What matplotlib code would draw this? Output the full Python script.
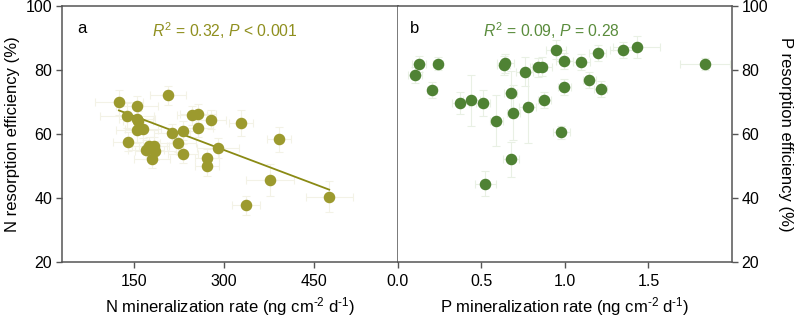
import numpy as np
import matplotlib
matplotlib.use("Agg")
import matplotlib.pyplot as plt

plt.rcParams['font.family'] = ['Liberation Sans', 'DejaVu Sans']
plt.rcParams['mathtext.fontset'] = 'custom'
plt.rcParams['mathtext.rm'] = 'Liberation Sans'
plt.rcParams['mathtext.it'] = 'Liberation Sans:italic'

# Panel a : N mineralization vs N resorption efficiency
n_min = [125, 207, 154.5, 138, 155.5, 157, 154.5, 164.5, 139.5, 169.5,
         176, 183.5, 186, 179.5, 213.5, 232, 224, 231.5, 247, 256.5,
         278, 257.5, 328, 290.5, 272.5, 272.5, 392.5, 377, 476, 337]
n_res = [70.0, 72.2, 68.9, 65.8, 64.8, 64.2, 61.4, 61.7, 57.7, 55.2,
         56.2, 56.2, 54.8, 52.3, 60.3, 61.1, 57.4, 53.9, 65.9, 66.4,
         64.5, 62.0, 63.5, 55.7, 52.5, 50.0, 58.4, 45.6, 40.5, 37.7]
n_min_err = [40, 30, 35, 45, 30, 25, 35, 30, 25, 30,
             30, 25, 35, 30, 30, 25, 30, 25, 25, 30,
             25, 25, 20, 35, 20, 20, 20, 40, 39, 24]
n_res_err = [4, 3, 3, 4, 3, 3, 4, 3, 3, 3,
             3, 3, 3, 3, 3, 3, 3, 3, 3, 3,
             3, 3, 4, 3, 3, 3, 4, 5, 5, 3]
# fitted line as reported in the figure
fit_slope = -0.0707
fit_intercept = 76.3

# Panel b : P mineralization vs P resorption efficiency
p_min = [0.128, 0.241, 0.104, 0.205, 0.376, 0.442, 0.510, 0.591, 0.635, 0.645,
         0.677, 0.693, 0.760, 0.778, 0.842, 0.864, 0.878, 0.945, 0.997, 0.997,
         0.979, 0.678, 0.526, 1.098, 1.197, 1.147, 1.215, 1.351, 1.431, 1.838]
p_res = [82.1, 82.1, 78.4, 73.9, 69.8, 70.6, 69.8, 64.2, 81.6, 82.2,
         72.9, 66.8, 79.6, 68.4, 81.0, 81.2, 70.6, 86.5, 82.8, 74.7,
         60.6, 52.2, 44.5, 82.7, 85.5, 77.0, 74.3, 86.4, 87.4, 82.0]
p_min_err = [0.04, 0.03, 0.04, 0.03, 0.05, 0.05, 0.04, 0.04, 0.04, 0.05,
             0.04, 0.04, 0.05, 0.05, 0.05, 0.06, 0.04, 0.06, 0.05, 0.04,
             0.05, 0.05, 0.06, 0.05, 0.05, 0.04, 0.04, 0.08, 0.14, 0.15]
p_res_err = [2.5, 2.0, 2.5, 2.5, 3.5, 8.0, 4.0, 8.0, 3.0, 3.0,
             7.0, 8.5, 4.5, 11.0, 3.0, 3.0, 2.5, 3.0, 2.5, 2.5,
             2.0, 5.5, 3.9, 2.5, 2.5, 2.5, 2.5, 2.5, 3.5, 2.0]

olive = '#9c9a2e'
olive_line = '#8a8a14'
green = '#4f8234'
spine_col = '#555555'

fig = plt.figure(figsize=(7.96, 3.19), dpi=100)
ax1 = fig.add_axes([0.0779, 0.1787, 0.4215, 0.801])
ax2 = fig.add_axes([0.4994, 0.1787, 0.4202, 0.801])

# panel a
ax1.errorbar(n_min, n_res, xerr=n_min_err, yerr=n_res_err, fmt='none',
             ecolor='#f3f2e6', elinewidth=0.8, capsize=3, capthick=0.8, zorder=1)
ax1.plot(n_min, n_res, 'o', color=olive, markersize=7.3, zorder=3)
xs = np.array([min(n_min), max(n_min)])
ax1.plot(xs, fit_intercept + fit_slope * xs, color=olive_line, lw=1.3, zorder=2)

ax1.set_xlim(30, 590)
ax1.set_ylim(20, 100)
ax1.set_xticks([150, 300, 450])
ax1.set_yticks([20, 40, 60, 80, 100])
ax1.set_xlabel('N mineralization rate (ng cm$^{\\text{-2}}$ d$^{\\text{-1}}$)',
               fontsize=12, labelpad=4)
ax1.set_ylabel('N resorption efficiency (%)', fontsize=12, labelpad=4)
ax1.text(0.045, 0.915, 'a', transform=ax1.transAxes, fontsize=12, va='center')
ax1.text(0.486, 0.905, '$R^2$ = 0.32, $P$ < 0.001', transform=ax1.transAxes,
         fontsize=11.3, color='#8f8f1e', ha='center', va='center')

# panel b
ax2.errorbar(p_min, p_res, xerr=p_min_err, yerr=p_res_err, fmt='none',
             ecolor='#e9f0e4', elinewidth=0.8, capsize=3, capthick=0.8, zorder=1)
ax2.plot(p_min, p_res, 'o', color=green, markersize=7.3, zorder=3)

ax2.set_xlim(0, 2.0)
ax2.set_ylim(20, 100)
ax2.set_xticks([0.0, 0.5, 1.0, 1.5])
ax2.set_xticklabels(['0.0', '0.5', '1.0', '1.5'])
ax2.set_yticks([20, 40, 60, 80, 100])
ax2.yaxis.tick_right()
ax2.yaxis.set_label_position('right')
ax2.set_xlabel('P mineralization rate (ng cm$^{\\text{-2}}$ d$^{\\text{-1}}$)',
               fontsize=12, labelpad=4)
ax2.set_ylabel('P resorption efficiency (%)', fontsize=12, rotation=270, labelpad=18)
ax2.text(0.037, 0.915, 'b', transform=ax2.transAxes, fontsize=12, va='center')
ax2.text(0.461, 0.905, '$R^2$ = 0.09, $P$ = 0.28', transform=ax2.transAxes,
         fontsize=11.3, color='#5a8c3c', ha='center', va='center')

for ax in (ax1, ax2):
    for s in ax.spines.values():
        s.set_color(spine_col)
        s.set_linewidth(1.1)
    ax.tick_params(direction='out', length=4, width=1, color=spine_col,
                   labelsize=11.5, pad=3)
    ax.tick_params(axis='x', pad=5)
ax2.spines['left'].set_visible(False)

fig.savefig('out.png', dpi=100)
